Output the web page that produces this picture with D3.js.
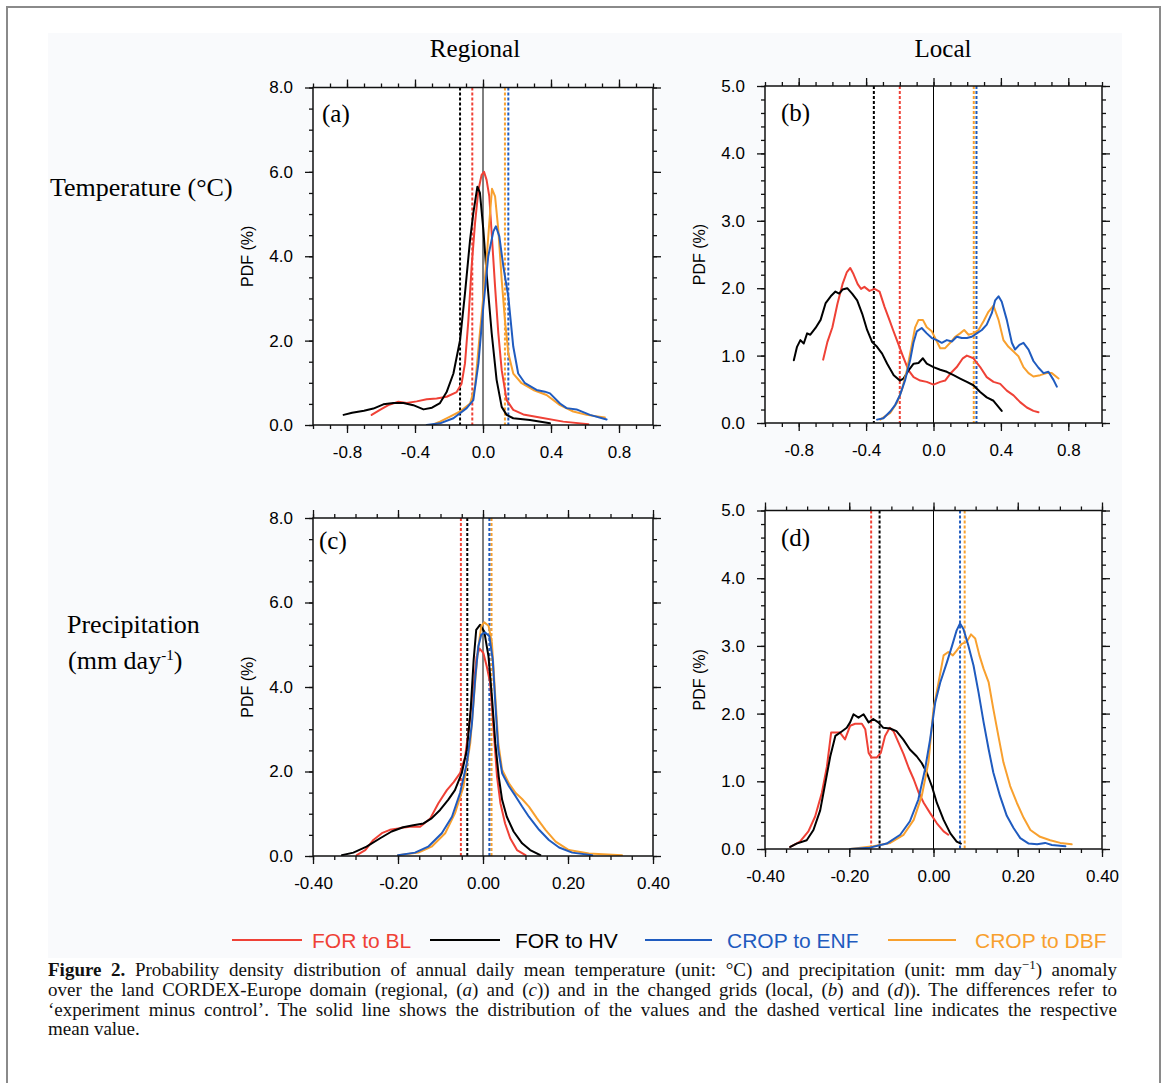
<!DOCTYPE html>
<html><head><meta charset="utf-8">
<script src="https://cdn.jsdelivr.net/npm/d3@7"></script>
<style>html,body{margin:0;padding:0;background:#fff;} svg{display:block;}</style>
</head><body>
<svg id="fig" width="1167" height="1083"></svg>
<script>
// ---------------- DATA ----------------
const seriesNames = ["FOR to BL", "FOR to HV", "CROP to ENF", "CROP to DBF"];
const columnTitles = ["Regional", "Local"];
const panelLabels = ["(a)", "(b)", "(c)", "(d)"];
const xTicksTemp = [-0.8, -0.4, 0.0, 0.4, 0.8];
const xTicksPrecip = [-0.4, -0.2, 0.0, 0.2, 0.4];
const yTicksRegional = [0, 2, 4, 6, 8];
const yTicksLocal = [0, 1, 2, 3, 4, 5];

// Panel (a): regional temperature  [anomaly, PDF %]
const aBL = [[-0.655,0.24],[-0.606,0.36],[-0.557,0.47],[-0.498,0.55],[-0.449,0.52],[-0.39,0.56],[-0.331,0.61],[-0.273,0.63],[-0.214,0.67],[-0.155,0.78],[-0.126,0.98],[-0.106,1.46],[-0.086,2.48],[-0.067,3.75],[-0.047,4.78],[-0.027,5.57],[-0.008,5.93],[0.006,6.0],[0.021,5.81],[0.037,5.42],[0.051,4.55],[0.071,3.28],[0.09,2.18],[0.11,1.3],[0.139,0.59],[0.178,0.36],[0.237,0.25],[0.335,0.18],[0.472,0.08],[0.62,0.02]];
const aHV = [[-0.82,0.24],[-0.77,0.29],[-0.70,0.34],[-0.645,0.39],[-0.586,0.49],[-0.527,0.52],[-0.468,0.52],[-0.41,0.47],[-0.35,0.37],[-0.30,0.41],[-0.253,0.52],[-0.214,0.78],[-0.174,1.22],[-0.135,2.01],[-0.106,3.12],[-0.076,4.39],[-0.057,5.02],[-0.033,5.65],[-0.018,5.5],[0.002,4.63],[0.021,3.6],[0.051,2.18],[0.08,1.07],[0.11,0.43],[0.139,0.24],[0.178,0.16],[0.276,0.12],[0.394,0.04]];
const aENF = [[-0.331,0],[-0.253,0.04],[-0.174,0.16],[-0.096,0.4],[-0.057,0.59],[-0.027,1.46],[0.002,2.81],[0.031,4.0],[0.061,4.59],[0.076,4.71],[0.096,4.47],[0.12,3.75],[0.149,3.04],[0.178,1.86],[0.207,1.22],[0.247,0.99],[0.315,0.83],[0.364,0.79],[0.394,0.75],[0.453,0.51],[0.492,0.4],[0.55,0.37],[0.629,0.24],[0.727,0.13]];
const aDBF = [[-0.30,0],[-0.253,0.08],[-0.194,0.2],[-0.135,0.32],[-0.076,0.51],[-0.047,0.91],[-0.022,2.02],[0.002,3.05],[0.021,3.92],[0.037,4.79],[0.053,5.6],[0.071,5.42],[0.09,4.63],[0.11,3.44],[0.129,2.49],[0.149,1.7],[0.178,1.22],[0.227,0.99],[0.296,0.83],[0.374,0.71],[0.453,0.47],[0.531,0.32],[0.61,0.24],[0.717,0.18]];
const meansA = [-0.063, -0.135, 0.149, 0.129];

// Panel (b): local temperature
const bBL = [[-0.655,0.94],[-0.63,1.2],[-0.60,1.42],[-0.57,1.77],[-0.54,2.06],[-0.514,2.24],[-0.494,2.3],[-0.475,2.21],[-0.45,2.06],[-0.43,1.99],[-0.41,2.02],[-0.38,1.96],[-0.35,1.99],[-0.32,1.95],[-0.29,1.72],[-0.26,1.52],[-0.24,1.38],[-0.21,1.18],[-0.18,0.98],[-0.148,0.78],[-0.118,0.68],[-0.079,0.63],[-0.04,0.61],[0.0,0.57],[0.04,0.61],[0.069,0.63],[0.099,0.73],[0.138,0.83],[0.174,0.96],[0.198,1.0],[0.237,0.96],[0.277,0.83],[0.316,0.68],[0.356,0.61],[0.396,0.58],[0.435,0.48],[0.475,0.41],[0.514,0.31],[0.554,0.23],[0.593,0.18],[0.623,0.16]];
const bHV = [[-0.829,0.93],[-0.81,1.13],[-0.79,1.23],[-0.77,1.18],[-0.75,1.33],[-0.731,1.31],[-0.70,1.41],[-0.67,1.53],[-0.64,1.78],[-0.61,1.88],[-0.582,1.95],[-0.56,1.92],[-0.54,1.98],[-0.512,2.0],[-0.483,1.92],[-0.453,1.82],[-0.423,1.62],[-0.394,1.38],[-0.364,1.2],[-0.335,1.13],[-0.305,1.03],[-0.275,0.88],[-0.236,0.71],[-0.20,0.63],[-0.178,0.66],[-0.148,0.78],[-0.118,0.88],[-0.089,0.89],[-0.063,0.96],[-0.04,0.88],[0.0,0.83],[0.04,0.79],[0.079,0.76],[0.119,0.71],[0.158,0.66],[0.198,0.61],[0.237,0.56],[0.277,0.46],[0.316,0.38],[0.356,0.33],[0.405,0.18]];
const bENF = [[-0.335,0.05],[-0.297,0.07],[-0.257,0.17],[-0.227,0.27],[-0.198,0.42],[-0.168,0.64],[-0.138,0.94],[-0.119,1.19],[-0.099,1.36],[-0.07,1.41],[-0.04,1.33],[-0.01,1.26],[0.02,1.23],[0.049,1.19],[0.079,1.23],[0.109,1.21],[0.138,1.28],[0.168,1.26],[0.198,1.26],[0.227,1.28],[0.257,1.33],[0.287,1.38],[0.316,1.46],[0.346,1.63],[0.366,1.82],[0.386,1.88],[0.405,1.8],[0.435,1.53],[0.465,1.19],[0.484,1.09],[0.51,1.16],[0.534,1.19],[0.564,1.09],[0.593,0.92],[0.623,0.82],[0.653,0.74],[0.682,0.76],[0.712,0.64],[0.732,0.54]];
const bDBF = [[-0.316,0.05],[-0.257,0.15],[-0.217,0.3],[-0.188,0.49],[-0.158,0.78],[-0.128,1.17],[-0.109,1.42],[-0.089,1.53],[-0.063,1.53],[-0.04,1.42],[-0.01,1.36],[0.02,1.21],[0.04,1.11],[0.069,1.11],[0.099,1.19],[0.129,1.28],[0.158,1.33],[0.182,1.38],[0.208,1.31],[0.237,1.33],[0.267,1.38],[0.297,1.51],[0.326,1.65],[0.356,1.74],[0.386,1.53],[0.415,1.23],[0.445,1.13],[0.475,1.06],[0.504,0.99],[0.534,0.83],[0.564,0.74],[0.593,0.69],[0.633,0.71],[0.672,0.74],[0.702,0.74],[0.742,0.66]];
const meansB = [-0.20, -0.354, 0.255, 0.239];

// Panel (c): regional precipitation
const cBL = [[-0.297,0.02],[-0.277,0.14],[-0.258,0.38],[-0.238,0.54],[-0.219,0.62],[-0.195,0.66],[-0.172,0.69],[-0.148,0.69],[-0.124,0.89],[-0.105,1.25],[-0.085,1.56],[-0.069,1.75],[-0.054,1.96],[-0.042,2.35],[-0.032,3.14],[-0.022,4.01],[-0.015,4.72],[-0.008,4.91],[0.001,4.8],[0.009,4.48],[0.017,4.09],[0.025,2.98],[0.033,1.88],[0.041,1.25],[0.052,0.77],[0.064,0.42],[0.08,0.14],[0.1,0.02]];
const cHV = [[-0.332,0.02],[-0.305,0.08],[-0.274,0.22],[-0.242,0.42],[-0.215,0.58],[-0.188,0.68],[-0.164,0.73],[-0.14,0.77],[-0.121,0.89],[-0.101,1.09],[-0.082,1.33],[-0.066,1.56],[-0.05,1.96],[-0.038,2.51],[-0.029,3.46],[-0.022,4.64],[-0.016,5.35],[-0.007,5.47],[0.003,5.31],[0.013,4.72],[0.021,3.77],[0.029,2.67],[0.037,1.88],[0.045,1.33],[0.056,0.93],[0.072,0.58],[0.092,0.3],[0.111,0.14],[0.135,0.02]];
const cENF = [[-0.2,0.02],[-0.16,0.08],[-0.129,0.22],[-0.097,0.54],[-0.073,0.93],[-0.054,1.49],[-0.038,2.2],[-0.026,3.14],[-0.018,4.25],[-0.011,4.96],[-0.004,5.24],[0.005,5.29],[0.015,5.2],[0.023,4.64],[0.029,3.61],[0.036,2.51],[0.045,1.96],[0.061,1.65],[0.077,1.41],[0.092,1.17],[0.108,0.93],[0.132,0.62],[0.155,0.38],[0.179,0.2],[0.21,0.08],[0.257,0.02]];
const cDBF = [[-0.2,0.02],[-0.152,0.08],[-0.121,0.22],[-0.089,0.54],[-0.066,1.01],[-0.046,1.64],[-0.03,2.67],[-0.02,3.93],[-0.012,4.88],[-0.004,5.44],[0.003,5.53],[0.013,5.45],[0.021,5.04],[0.029,3.77],[0.036,2.67],[0.045,2.04],[0.061,1.72],[0.077,1.49],[0.092,1.35],[0.108,1.17],[0.127,0.89],[0.147,0.62],[0.171,0.34],[0.202,0.14],[0.249,0.06],[0.327,0.02]];
const meansC = [-0.052, -0.037, 0.015, 0.02];

// Panel (d): local precipitation
const dBL = [[-0.34,0.03],[-0.317,0.11],[-0.297,0.26],[-0.281,0.48],[-0.265,0.83],[-0.253,1.22],[-0.243,1.72],[-0.233,1.72],[-0.222,1.72],[-0.21,1.62],[-0.198,1.82],[-0.186,1.85],[-0.17,1.85],[-0.162,1.77],[-0.154,1.42],[-0.147,1.35],[-0.135,1.35],[-0.125,1.42],[-0.115,1.67],[-0.104,1.79],[-0.095,1.74],[-0.083,1.57],[-0.071,1.4],[-0.059,1.2],[-0.047,1.03],[-0.035,0.83],[-0.023,0.68],[-0.008,0.53],[0.008,0.38],[0.024,0.26],[0.035,0.21]];
const dHV = [[-0.34,0.03],[-0.325,0.08],[-0.301,0.13],[-0.285,0.28],[-0.269,0.57],[-0.257,0.97],[-0.245,1.37],[-0.233,1.67],[-0.217,1.74],[-0.206,1.79],[-0.198,1.87],[-0.19,1.99],[-0.178,1.94],[-0.166,1.99],[-0.154,1.87],[-0.143,1.92],[-0.131,1.87],[-0.119,1.79],[-0.103,1.78],[-0.088,1.74],[-0.072,1.62],[-0.056,1.47],[-0.04,1.37],[-0.028,1.27],[-0.016,1.13],[-0.004,0.93],[0.008,0.68],[0.024,0.43],[0.04,0.23],[0.055,0.11],[0.065,0.08]];
const dENF = [[-0.198,0.0],[-0.151,0.02],[-0.111,0.08],[-0.079,0.21],[-0.056,0.41],[-0.036,0.73],[-0.02,1.18],[-0.008,1.62],[0.004,2.16],[0.016,2.46],[0.032,2.76],[0.044,3.0],[0.055,3.23],[0.063,3.33],[0.071,3.25],[0.083,3.0],[0.095,2.71],[0.107,2.31],[0.119,1.87],[0.131,1.47],[0.142,1.13],[0.158,0.78],[0.174,0.49],[0.19,0.31],[0.206,0.16],[0.226,0.08],[0.246,0.07],[0.265,0.09],[0.281,0.06],[0.313,0.04]];
const dDBF = [[-0.198,0.0],[-0.143,0.04],[-0.103,0.09],[-0.071,0.21],[-0.047,0.43],[-0.028,0.78],[-0.012,1.28],[0.0,2.07],[0.012,2.46],[0.024,2.86],[0.035,2.91],[0.046,2.86],[0.055,2.93],[0.067,3.03],[0.079,3.06],[0.089,3.17],[0.099,3.11],[0.109,2.86],[0.119,2.66],[0.131,2.46],[0.142,2.07],[0.154,1.67],[0.166,1.28],[0.182,0.93],[0.198,0.68],[0.214,0.46],[0.23,0.28],[0.253,0.18],[0.277,0.13],[0.301,0.09],[0.328,0.07]];
const meansD = [-0.148, -0.128, 0.063, 0.074];

// ---------------- STYLE / LAYOUT ----------------
const colors = ["#ef4136", "#000000", "#1f5bbf", "#f8a02e"];
const drawOrder = [0, 1, 3, 2];
const SANS = "'Liberation Sans', Arial, Helvetica, sans-serif";
const SERIF = "'Liberation Serif', 'Times New Roman', Times, serif";
const AXIS = "#111";

const svg = d3.select("#fig");
svg.append("rect").attr("x", 0).attr("y", 0).attr("width", 1167).attr("height", 1083).attr("fill", "#fff");
svg.append("rect").attr("x", 7).attr("y", 7).attr("width", 1153).attr("height", 1090)
  .attr("fill", "none").attr("stroke", "#8a8a8a").attr("stroke-width", 2);
svg.append("rect").attr("x", 48).attr("y", 33).attr("width", 1074).attr("height", 925).attr("fill", "#f9fafc");

const panels = [
  {id: "a", left: 313, right: 653, top: 87.5, bottom: 425, xDom: [-1, 1], yDom: [0, 8], xT: xTicksTemp, xMinor: 0.1, yT: yTicksRegional, yMinor: 0.5, xDec: 1,
   series: [aBL, aHV, aENF, aDBF], means: meansA, label: panelLabels[0], lx: 322, ly: 122, pdfx: 247},
  {id: "b", left: 765, right: 1102, top: 86, bottom: 423, xDom: [-1, 1], yDom: [0, 5], xT: xTicksTemp, xMinor: 0.1, yT: yTicksLocal, yMinor: 0.2, xDec: 1,
   series: [bBL, bHV, bENF, bDBF], means: meansB, label: panelLabels[1], lx: 781, ly: 121, pdfx: 699},
  {id: "c", left: 313, right: 653, top: 518, bottom: 856, xDom: [-0.4, 0.4], yDom: [0, 8], xT: xTicksPrecip, xMinor: 0.05, yT: yTicksRegional, yMinor: 0.5, xDec: 2,
   series: [cBL, cHV, cENF, cDBF], means: meansC, label: panelLabels[2], lx: 319, ly: 549, pdfx: 247},
  {id: "d", left: 765, right: 1102, top: 510.5, bottom: 849, xDom: [-0.4, 0.4], yDom: [0, 5], xT: xTicksPrecip, xMinor: 0.05, yT: yTicksLocal, yMinor: 0.2, xDec: 2,
   series: [dBL, dHV, dENF, dDBF], means: meansD, label: panelLabels[3], lx: 781, ly: 546, pdfx: 699}
];

function styleAxis(sel, size) {
  sel.select(".domain").remove();
  sel.selectAll(".tick line").attr("stroke", AXIS).attr("stroke-width", 1.3);
  sel.selectAll(".tick text").attr("font-family", SANS).attr("font-size", size || 17).attr("fill", "#000");
}

panels.forEach(p => {
  const x = d3.scaleLinear().domain(p.xDom).range([p.left, p.right]);
  const y = d3.scaleLinear().domain(p.yDom).range([p.bottom, p.top]);
  const g = svg.append("g");
  const clipId = "clip-" + p.id;
  svg.append("clipPath").attr("id", clipId).append("rect")
    .attr("x", p.left).attr("y", p.top).attr("width", p.right - p.left).attr("height", p.bottom - p.top);
  g.append("rect").attr("x", p.left).attr("y", p.top).attr("width", p.right - p.left).attr("height", p.bottom - p.top).attr("fill", "#fff");

  const minorX = d3.range(p.xDom[0], p.xDom[1] + 1e-9, p.xMinor).map(v => +v.toFixed(4));
  const minorY = d3.range(p.yDom[0], p.yDom[1] + 1e-9, p.yMinor).map(v => +v.toFixed(4));
  const fx = d => d.toFixed(p.xDec);
  const fy = d => d.toFixed(1);

  // minor ticks
  g.append("g").attr("transform", `translate(0,${p.bottom})`).call(d3.axisBottom(x).tickValues(minorX).tickSize(4).tickFormat("")).call(styleAxis);
  g.append("g").attr("transform", `translate(0,${p.top})`).call(d3.axisTop(x).tickValues(minorX).tickSize(4).tickFormat("")).call(styleAxis);
  g.append("g").attr("transform", `translate(${p.left},0)`).call(d3.axisLeft(y).tickValues(minorY).tickSize(4).tickFormat("")).call(styleAxis);
  g.append("g").attr("transform", `translate(${p.right},0)`).call(d3.axisRight(y).tickValues(minorY).tickSize(4).tickFormat("")).call(styleAxis);
  // major ticks
  g.append("g").attr("transform", `translate(0,${p.bottom})`).call(d3.axisBottom(x).tickValues(p.xT).tickSize(8).tickPadding(13).tickFormat(fx)).call(styleAxis);
  g.append("g").attr("transform", `translate(0,${p.top})`).call(d3.axisTop(x).tickValues(p.xT).tickSize(8).tickFormat("")).call(styleAxis);
  g.append("g").attr("transform", `translate(${p.left},0)`).call(d3.axisLeft(y).tickValues(p.yT).tickSize(8).tickPadding(12).tickFormat(fy)).call(styleAxis);
  g.append("g").attr("transform", `translate(${p.right},0)`).call(d3.axisRight(y).tickValues(p.yT).tickSize(8).tickFormat("")).call(styleAxis);

  const plot = g.append("g").attr("clip-path", `url(#${clipId})`);
  // zero line
  plot.append("line").attr("x1", x(0)).attr("x2", x(0)).attr("y1", p.top).attr("y2", p.bottom)
    .attr("stroke", "#000").attr("stroke-width", 1);
  // mean lines
  drawOrder.forEach(i => {
    plot.append("line").attr("x1", x(p.means[i])).attr("x2", x(p.means[i])).attr("y1", p.top).attr("y2", p.bottom)
      .attr("stroke", colors[i]).attr("stroke-width", 2).attr("stroke-dasharray", "3,2");
  });
  const line = d3.line().x(d => x(d[0])).y(d => y(d[1])).curve(d3.curveLinear);
  drawOrder.forEach(i => {
    plot.append("path").datum(p.series[i]).attr("d", line).attr("fill", "none")
      .attr("stroke", colors[i]).attr("stroke-width", 2).attr("stroke-linejoin", "round").attr("stroke-linecap", "round");
  });
  // frame
  g.append("rect").attr("x", p.left).attr("y", p.top).attr("width", p.right - p.left).attr("height", p.bottom - p.top)
    .attr("fill", "none").attr("stroke", AXIS).attr("stroke-width", 1.5);
  // panel label
  g.append("text").attr("x", p.lx).attr("y", p.ly).attr("font-family", SERIF).attr("font-size", 25).text(p.label);
  // y title
  g.append("text").attr("transform", `translate(${p.pdfx},${(p.top + p.bottom) / 2}) rotate(-90)`)
    .attr("text-anchor", "middle").attr("dy", "0.35em").attr("font-family", SANS).attr("font-size", 16).text("PDF (%)");
});

// column titles
svg.append("text").attr("x", 475).attr("y", 57).attr("text-anchor", "middle").attr("font-family", SERIF).attr("font-size", 25).text(columnTitles[0]);
svg.append("text").attr("x", 943).attr("y", 57).attr("text-anchor", "middle").attr("font-family", SERIF).attr("font-size", 25).text(columnTitles[1]);
// row labels
svg.append("text").attr("x", 50).attr("y", 196).attr("font-family", SERIF).attr("font-size", 26).text("Temperature (°C)");
svg.append("text").attr("x", 67).attr("y", 633).attr("font-family", SERIF).attr("font-size", 26).text("Precipitation");
const pr = svg.append("text").attr("x", 68).attr("y", 669).attr("font-family", SERIF).attr("font-size", 26);
pr.append("tspan").text("(mm day");
pr.append("tspan").attr("font-size", 15).attr("dy", -9).text("-1");
pr.append("tspan").attr("dy", 9).text(")");

// legend
const legendX = [[232, 302, 312], [430, 500, 515], [645, 712, 727], [888, 956, 975]];
seriesNames.forEach((n, i) => {
  const L = legendX[i];
  svg.append("line").attr("x1", L[0]).attr("x2", L[1]).attr("y1", 940).attr("y2", 940).attr("stroke", colors[i]).attr("stroke-width", 2);
  svg.append("text").attr("x", L[2]).attr("y", 940).attr("dy", "0.36em").attr("font-family", SANS).attr("font-size", 21)
    .attr("fill", i === 1 ? "#000" : colors[i]).text(n);
});

// caption
const capLines = [
  [{t: "Figure 2.", b: true}, {t: " Probability density distribution of annual daily mean temperature (unit: °C) and precipitation (unit: mm day"}, {t: "−1", sup: true}, {t: ") anomaly"}],
  [{t: "over the land CORDEX-Europe domain (regional, ("}, {t: "a", i: true}, {t: ") and ("}, {t: "c", i: true}, {t: ")) and in the changed grids (local, ("}, {t: "b", i: true}, {t: ") and ("}, {t: "d", i: true}, {t: ")). The differences refer to"}],
  [{t: "‘experiment minus control’. The solid line shows the distribution of the values and the dashed vertical line indicates the respective"}],
  [{t: "mean value."}]
];
const capY = [976, 996, 1016, 1035];
capLines.forEach((parts, li) => {
  const t = svg.append("text").attr("x", 48).attr("y", capY[li]).attr("font-family", SERIF).attr("font-size", 19).attr("fill", "#111");
  let supped = false;
  parts.forEach(pt => {
    const s = t.append("tspan").text(pt.t);
    if (pt.b) s.attr("font-weight", "bold");
    if (pt.i) s.attr("font-style", "italic");
    if (pt.sup) { s.attr("font-size", 13).attr("dy", -7); supped = true; }
    else if (supped) { s.attr("dy", 7); supped = false; }
  });
  if (li < 3) {
    const full = parts.map(p => p.t).join("");
    const spaces = (full.match(/ /g) || []).length;
    const len = t.node().getComputedTextLength();
    const target = 1117 - 48;
    if (spaces > 0 && len < target) t.attr("word-spacing", (target - len) / spaces);
    else if (len > target) t.attr("textLength", target).attr("lengthAdjust", "spacingAndGlyphs");
  }
});
</script>
</body></html>
